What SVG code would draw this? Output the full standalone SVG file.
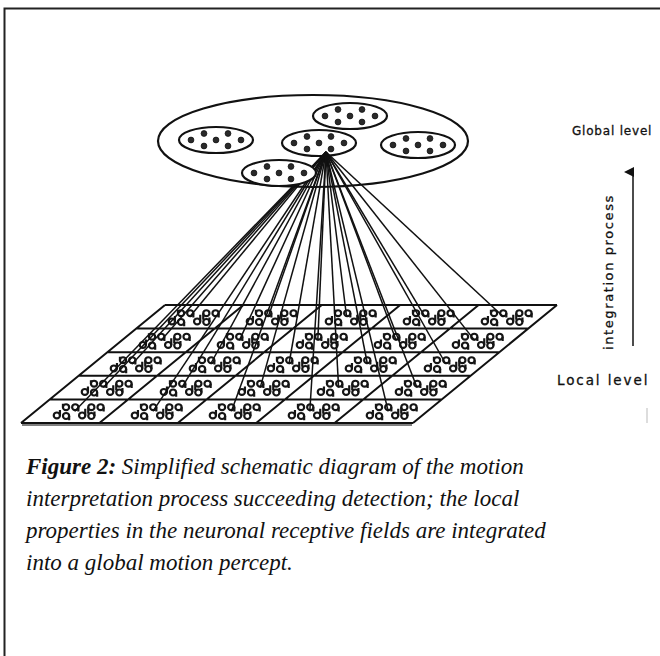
<svg xmlns="http://www.w3.org/2000/svg" xmlns:xlink="http://www.w3.org/1999/xlink" width="660" height="656" viewBox="0 0 660 656">
<style>
.frame{fill:none;stroke:#222;stroke-width:2}
.big{fill:#fff;stroke:#111;stroke-width:2.2}
.cl{fill:#fff;stroke:#111;stroke-width:2.2}
.dot{fill:#2a2a2a;stroke:#111;stroke-width:0.8}
.grid{fill:none;stroke:#111;stroke-width:2}
.rf{fill:none;stroke:#151515;stroke-width:1.9}
.con line{stroke:#111;stroke-width:1.5}
.lbl{font-family:"DejaVu Sans",sans-serif;fill:#111;stroke:#111;stroke-width:0.3}
.cap{font-family:"Liberation Serif",serif;font-style:italic;font-size:23px;fill:#111}
</style>
<defs>
<g id="cluster">
<ellipse class="cl" cx="0" cy="0" rx="37" ry="13"/>
<circle class="dot" cx="-12" cy="-6.5" r="2.9"/>
<circle class="dot" cx="12" cy="-6.5" r="2.9"/>
<circle class="dot" cx="-25" cy="0" r="2.9"/>
<circle class="dot" cx="0" cy="0" r="2.9"/>
<circle class="dot" cx="25" cy="0" r="2.9"/>
<circle class="dot" cx="-12" cy="6" r="2.9"/>
<circle class="dot" cx="12" cy="6" r="2.9"/>
</g>
<g id="rf" class="rf" transform="scale(1.15,1.1)">
<circle cx="-13" cy="-3.5" r="2.7"/>
<circle cx="-5" cy="-3.5" r="2.7"/>
<circle cx="9" cy="-3.5" r="2.7"/>
<circle cx="17" cy="-3.5" r="2.7"/>
<circle cx="-21" cy="4" r="2.7"/>
<circle cx="-13" cy="4.5" r="2.7"/>
<circle cx="1" cy="4" r="2.7"/>
<circle cx="9" cy="4.5" r="2.7"/>
<path d="M-15.7,-3.5 v-3 M-2.3,-3.5 v4 M6.3,-3.5 v6 M19.7,-3.5 v4 M-18.3,4 v-5 M-10.3,4.5 v4 M3.7,4 v-6 M11.7,4.5 v-4"/>
</g>
<marker id="ah" markerWidth="10" markerHeight="10" refX="5" refY="9" orient="auto" markerUnits="userSpaceOnUse" viewBox="0 0 10 10">
<path d="M0,10 L5,0 L10,10 Z" fill="#111"/>
</marker>
</defs>
<rect width="660" height="656" fill="#fff"/>
<path class="frame" d="M4.5,656 V8.5 H660"/>

<g id="global-field">
<ellipse class="big" cx="313" cy="141" rx="155" ry="46"/>
</g>
<g id="cluster-left"><use xlink:href="#cluster" x="216" y="140"/></g>
<g id="cluster-top"><use xlink:href="#cluster" x="350" y="116"/></g>
<g id="cluster-middle"><use xlink:href="#cluster" x="319" y="143"/></g>
<g id="cluster-right"><use xlink:href="#cluster" x="418" y="145"/></g>

<g id="local-grid">
<path class="grid" d="M165,305 H557 M136.2,328.6 H528.2 M107.4,352.2 H499.4 M78.6,375.8 H470.6 M49.8,399.4 H441.8 M21,423 H413 M165,305 L21,423 M243.4,305 L99.4,423 M321.8,305 L177.8,423 M400.2,305 L256.2,423 M478.6,305 L334.6,423 M557,305 L413,423"/>
<path d="M22,425 H412" stroke="#555" stroke-width="1.5"/>
<use xlink:href="#rf" x="196" y="317"/><use xlink:href="#rf" x="274" y="317"/><use xlink:href="#rf" x="353" y="317"/><use xlink:href="#rf" x="431" y="317"/><use xlink:href="#rf" x="509" y="317"/>
<use xlink:href="#rf" x="167" y="340.5"/><use xlink:href="#rf" x="245" y="340.5"/><use xlink:href="#rf" x="324" y="340.5"/><use xlink:href="#rf" x="402" y="340.5"/><use xlink:href="#rf" x="480" y="340.5"/>
<use xlink:href="#rf" x="138" y="364"/><use xlink:href="#rf" x="217" y="364"/><use xlink:href="#rf" x="295" y="364"/><use xlink:href="#rf" x="373" y="364"/><use xlink:href="#rf" x="452" y="364"/>
<use xlink:href="#rf" x="109" y="387.5"/><use xlink:href="#rf" x="188" y="387.5"/><use xlink:href="#rf" x="266" y="387.5"/><use xlink:href="#rf" x="345" y="387.5"/><use xlink:href="#rf" x="423" y="387.5"/>
<use xlink:href="#rf" x="81" y="411"/><use xlink:href="#rf" x="159" y="411"/><use xlink:href="#rf" x="237" y="411"/><use xlink:href="#rf" x="316" y="411"/><use xlink:href="#rf" x="394" y="411"/>
</g>

<g id="connectors" class="con">
<line x1="326" y1="152" x2="189.8" y2="316.8"/><line x1="326" y1="152" x2="268.2" y2="316.8"/><line x1="326" y1="152" x2="346.6" y2="316.8"/><line x1="326" y1="152" x2="425" y2="316.8"/><line x1="326" y1="152" x2="503.4" y2="316.8"/>
<line x1="326" y1="152" x2="161" y2="340.4"/><line x1="326" y1="152" x2="239.4" y2="340.4"/><line x1="326" y1="152" x2="317.8" y2="340.4"/><line x1="326" y1="152" x2="396.2" y2="340.4"/><line x1="326" y1="152" x2="474.6" y2="340.4"/>
<line x1="326" y1="152" x2="132.2" y2="364"/><line x1="326" y1="152" x2="210.6" y2="364"/><line x1="326" y1="152" x2="289" y2="364"/><line x1="326" y1="152" x2="367.4" y2="364"/><line x1="326" y1="152" x2="445.8" y2="364"/>
<line x1="326" y1="152" x2="103.4" y2="387.6"/><line x1="326" y1="152" x2="181.8" y2="387.6"/><line x1="326" y1="152" x2="260.2" y2="387.6"/><line x1="326" y1="152" x2="338.6" y2="387.6"/><line x1="326" y1="152" x2="417" y2="387.6"/>
<line x1="326" y1="152" x2="74.6" y2="411.2"/><line x1="326" y1="152" x2="153" y2="411.2"/><line x1="326" y1="152" x2="231.4" y2="411.2"/><line x1="326" y1="152" x2="309.8" y2="411.2"/><line x1="326" y1="152" x2="388.2" y2="411.2"/>
</g>

<g id="cluster-bottom"><use xlink:href="#cluster" x="279" y="173"/></g>

<g id="labels">
<text class="lbl" x="572" y="135" style="font-size:12px;letter-spacing:0.8px">Global level</text>
<text class="lbl" x="557" y="385" style="font-size:13.5px;letter-spacing:1.9px">Local level</text>
<text class="lbl" transform="translate(613,350) rotate(-90)" style="font-size:13px;letter-spacing:1.6px">integration process</text>
<line x1="633" y1="346" x2="633" y2="172" stroke="#111" stroke-width="1.5" marker-end="url(#ah)"/>
<line x1="647" y1="408" x2="647" y2="423" stroke="#bbb" stroke-width="1"/>
</g>

<g id="caption">
<text class="cap" x="26" y="474"><tspan font-weight="bold">Figure 2:</tspan> Simplified schematic diagram of the motion</text>
<text class="cap" x="26" y="506">interpretation process succeeding detection; the local</text>
<text class="cap" x="26" y="538">properties in the neuronal receptive fields are integrated</text>
<text class="cap" x="26" y="570">into a global motion percept.</text>
</g>
</svg>
